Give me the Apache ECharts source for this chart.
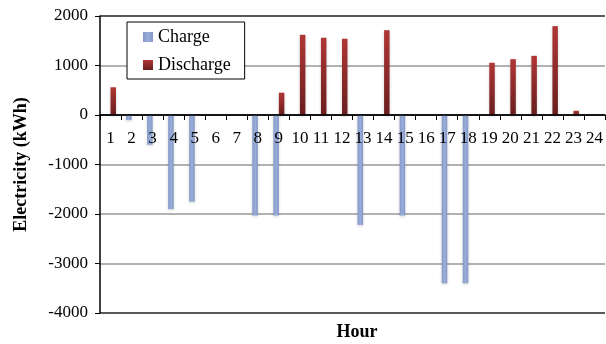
<!DOCTYPE html>
<html>
<head>
<meta charset="utf-8">
<script src="https://cdn.jsdelivr.net/npm/echarts@6/dist/echarts.min.js"></script>
<style>html,body{margin:0;padding:0;background:#fff}#c{width:606px;height:344px}</style>
</head>
<body>
<div id="c"></div>
<script>
const hours = ['1','2','3','4','5','6','7','8','9','10','11','12','13','14','15','16','17','18','19','20','21','22','23','24'];
const charge = [0,-100,-600,-1900,-1750,0,0,-2030,-2030,0,0,0,-2220,0,-2030,0,-3400,-3400,0,0,0,0,0,0];
const discharge = [560,0,0,0,0,0,0,0,450,1620,1560,1540,0,1713,0,0,0,0,1055,1128,1195,1795,85,0];
const yTicks = {min:-4000, max:2000, step:1000};

const F = 'Liberation Serif';
const gridTop = 16, gridBottom = 31, H = 344;
const plotH = H - gridTop - gridBottom;
const zeroOffset = -plotH * (0 - yTicks.min) / (yTicks.max - yTicks.min);

const chart = echarts.init(document.getElementById('c'), null, {renderer:'canvas'});
chart.setOption({
  animation:false,
  backgroundColor:'#fff',
  title:{
    text:'Hour', left:357, top:323, textAlign:'center', padding:0,
    textStyle:{fontFamily:F, fontSize:18, fontWeight:'bold', color:'#000'}
  },
  grid:{left:100, right:0, top:gridTop, bottom:gridBottom, containLabel:false},
  legend:{
    orient:'vertical', left:127, top:22,
    backgroundColor:'#fff', borderColor:'#000', borderWidth:1,
    padding:[6,14,5,16], itemGap:10, itemWidth:10, itemHeight:10,
    textStyle:{fontFamily:F, fontSize:18, color:'#000'},
    data:[{name:'Charge', icon:'rect'},{name:'Discharge', icon:'rect'}]
  },
  xAxis:{
    type:'category', data:hours, position:'bottom', offset:zeroOffset, z:5,
    axisLine:{onZero:false, lineStyle:{color:'#000', width:1.5}},
    axisTick:{show:true, interval:0, length:5, lineStyle:{color:'#000'}},
    axisLabel:{interval:0, margin:15, fontFamily:F, fontSize:17, color:'#000'},
    splitLine:{show:false}
  },
  yAxis:{
    type:'value', min:yTicks.min, max:yTicks.max, interval:yTicks.step,
    axisLine:{show:true, lineStyle:{color:'#000', width:1.5}},
    axisTick:{show:true, length:5, lineStyle:{color:'#000'}},
    axisLabel:{margin:12, fontFamily:F, fontSize:17, color:'#000', formatter:function(v){return String(v);}},
    splitLine:{show:true, lineStyle:{color:['#222','#999','#999','#999','#222','#999','#222'], width:1.5}},
    name:'Electricity (kWh)', nameLocation:'middle', nameGap:70,
    nameTextStyle:{fontFamily:F, fontSize:18, fontWeight:'bold', color:'#000'}
  },
  series:[{
    name:'Charge', type:'bar', data:charge,
    barGap:'0%', barCategoryGap:'48%',
    itemStyle:{
      color:new echarts.graphic.LinearGradient(0,0,1,0,[{offset:0,color:'#8197c9'},{offset:0.5,color:'#9aaed8'},{offset:1,color:'#8197c9'}]),
      shadowBlur:3, shadowColor:'rgba(0,0,0,0.2)', shadowOffsetY:1
    }
  },{
    name:'Discharge', type:'bar', data:discharge,
    barGap:'0%', barCategoryGap:'48%',
    itemStyle:{
      color:new echarts.graphic.LinearGradient(0,0,0,1,[{offset:0,color:'#b03636'},{offset:1,color:'#6a1e1e'}]),
      shadowBlur:3, shadowColor:'rgba(0,0,0,0.2)', shadowOffsetY:1
    }
  }]
});
</script>
</body>
</html>
